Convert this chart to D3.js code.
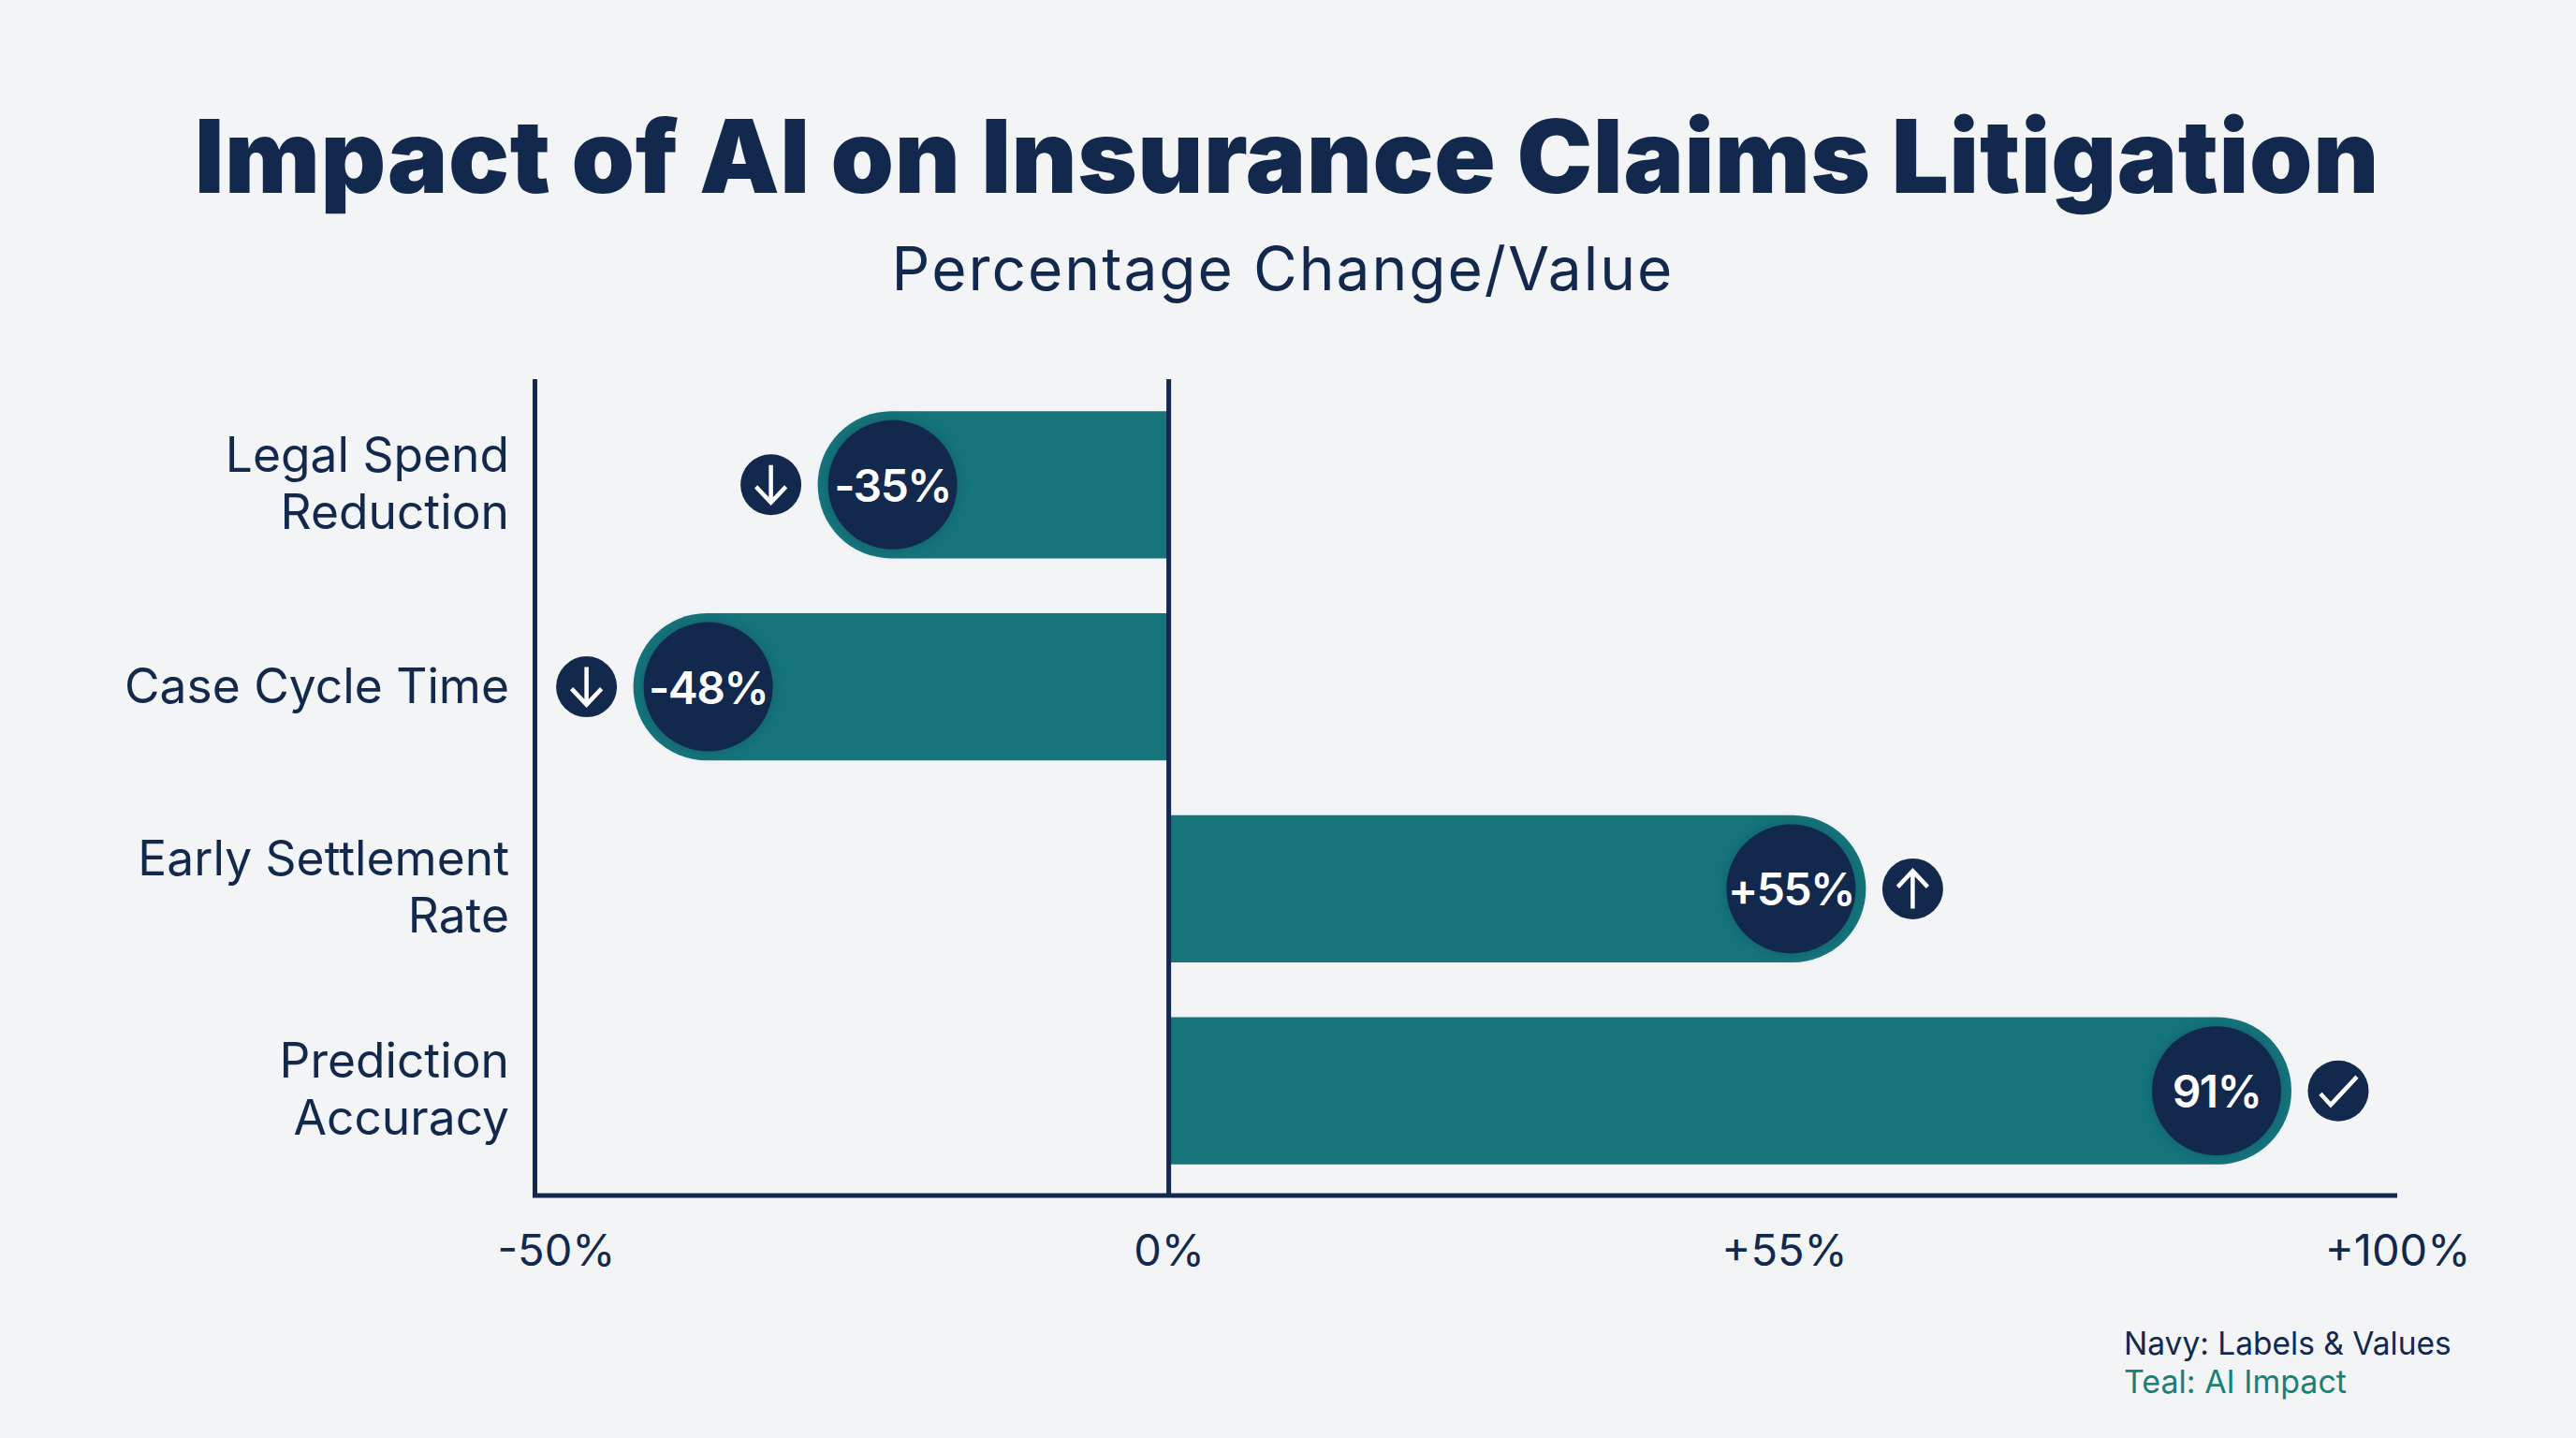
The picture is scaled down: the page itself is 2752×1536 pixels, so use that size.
<!DOCTYPE html>
<html lang="en">
<head>
  <meta charset="UTF-8">
  <title>Impact of AI on Insurance Claims Litigation</title>
  <script src="https://d3js.org/d3.v7.min.js"></script>
  <style>
    html, body { margin: 0; padding: 0; background: #f2f4f6; }
    svg { display: block; }
    text { font-family: 'Inter', sans-serif; fill: #12284c; }
    .value-disc { filter: drop-shadow(0 0 7px rgba(15, 40, 80, 0.3)); }
  </style>
</head>
<body>
  <div id="chart"></div>

  <script>
    // Data
    const categories = ['Legal Spend|Reduction', 'Case Cycle Time', 'Early Settlement|Rate', 'Prediction|Accuracy'];
    const values = [-35, -48, 55, 91];
    const valueLabels = ['-35%', '-48%', '+55%', '91%'];
    const icons = ['down', 'down', 'up', 'check'];
    const tickValues = [-50, 0, 55, 100];
    const tickLabels = ['-50%', '0%', '+55%', '+100%'];

    const width = 2752;
    const height = 1536;
    const navy = '#12284c';
    const teal = '#15757b';

    const svg = d3.select('#chart').append('svg')
      .attr('width', width)
      .attr('height', height);

    // The reference is not to scale: its bars and its tick labels follow different
    // spacing, so each gets its own piecewise scale.
    const x = d3.scaleLinear()
      .domain([-48, -35, 0, 55, 91])
      .range([676.6, 873.6, 1248.6, 1993.4, 2448]);
    const xTicks = d3.scaleLinear()
      .domain(tickValues)
      .range([594, 1248.6, 1906, 2561]);
    const y = d3.scaleBand()
      .domain(categories)
      .range([439.3, 1243.7])
      .paddingInner(0.272);

    const axisLeftX = 571.5;
    const axisRightX = 2561;
    const axisTop = 405;
    const axisBottom = 1277;

    // Title
    svg.append('text')
      .attr('x', 1375).attr('y', 206)
      .attr('text-anchor', 'middle')
      .attr('font-size', 108).attr('font-weight', 900)
      .attr('letter-spacing', 0.6)
      .text('Impact of AI on Insurance Claims Litigation');
    svg.append('text')
      .attr('x', 1370.5).attr('y', 310)
      .attr('text-anchor', 'middle')
      .attr('font-size', 64).attr('font-weight', 400)
      .attr('letter-spacing', 2)
      .text('Percentage Change/Value');

    // Bars: square at the zero line, fully rounded at the far end
    function barPath(v, top, h) {
      const x0 = x(0), x1 = x(v), r = h / 2, s = v < 0 ? -1 : 1;
      const p = d3.path();
      p.moveTo(x0, top);
      p.lineTo(x1 - s * r, top);
      p.arc(x1 - s * r, top + r, r, -Math.PI / 2, Math.PI / 2, v < 0);
      p.lineTo(x0, top + h);
      p.closePath();
      return p.toString();
    }

    const rows = svg.append('g').selectAll('g')
      .data(categories.map((c, i) => ({ category: c, value: values[i], label: valueLabels[i], icon: icons[i] })))
      .join('g');

    rows.append('path')
      .attr('d', d => barPath(d.value, y(d.category), y.bandwidth()))
      .attr('fill', teal);

    const capInset = 80;
    const iconGap = 50;
    const cy = d => y(d.category) + y.bandwidth() / 2;
    const dir = d => (d.value < 0 ? -1 : 1);

    rows.append('circle')
      .attr('class', 'value-disc')
      .attr('cx', d => x(d.value) - dir(d) * capInset)
      .attr('cy', cy)
      .attr('r', 69)
      .attr('fill', navy);

    rows.append('text')
      .attr('x', d => x(d.value) - dir(d) * capInset)
      .attr('y', d => cy(d) + 18)
      .attr('text-anchor', 'middle')
      .attr('font-size', 48).attr('font-weight', 600)
      .attr('letter-spacing', -1.5)
      .style('fill', '#fff')
      .text(d => d.label);

    // Direction badges
    const iconPaths = {
      down: 'M0,-21V19M-16,2L0,19L16,2',
      up: 'M0,21V-19M-16,-2L0,-19L16,-2',
      check: 'M-19,3L-8,15L20,-15'
    };
    const badges = rows.append('g')
      .attr('transform', d => `translate(${x(d.value) + dir(d) * iconGap},${cy(d)})`);
    badges.append('circle').attr('r', 32.5).attr('fill', navy);
    badges.append('path')
      .attr('d', d => iconPaths[d.icon])
      .attr('fill', 'none')
      .attr('stroke', '#fff')
      .attr('stroke-width', 4.5);

    // Category labels
    rows.append('text')
      .attr('text-anchor', 'end')
      .attr('font-size', 51.5)
      .each(function (d) {
        const lines = d.category.split('|');
        const first = cy(d) + (lines.length > 1 ? -14 : 17);
        d3.select(this).selectAll('tspan')
          .data(lines)
          .join('tspan')
          .attr('x', 544)
          .attr('y', (l, i) => first + i * 61)
          .text(l => l);
      });

    // Axis lines
    const axes = svg.append('g').attr('stroke', navy).attr('stroke-width', 5);
    axes.append('line').attr('x1', axisLeftX).attr('x2', axisLeftX).attr('y1', axisTop).attr('y2', axisBottom);
    axes.append('line').attr('x1', x(0)).attr('x2', x(0)).attr('y1', axisTop).attr('y2', axisBottom);
    axes.append('line').attr('x1', axisLeftX - 2.5).attr('x2', axisRightX).attr('y1', axisBottom).attr('y2', axisBottom);

    // Tick labels
    const xAxis = svg.append('g')
      .attr('transform', `translate(0,${axisBottom})`)
      .call(d3.axisBottom(xTicks)
        .tickValues(tickValues)
        .tickFormat((d, i) => tickLabels[i])
        .tickSize(0));
    xAxis.select('.domain').remove();
    xAxis.selectAll('text')
      .attr('y', 75)
      .attr('dy', 0)
      .attr('font-size', 47)
      .attr('font-family', 'Inter, sans-serif')
      .attr('font-weight', 400);

    // Colour note
    svg.append('text')
      .attr('x', 2269).attr('y', 1447)
      .attr('font-size', 33.5)
      .text('Navy: Labels & Values');
    svg.append('text')
      .attr('x', 2269).attr('y', 1488)
      .attr('font-size', 34)
      .style('fill', '#1a7f78')
      .text('Teal: AI Impact');
  </script>
</body>
</html>
